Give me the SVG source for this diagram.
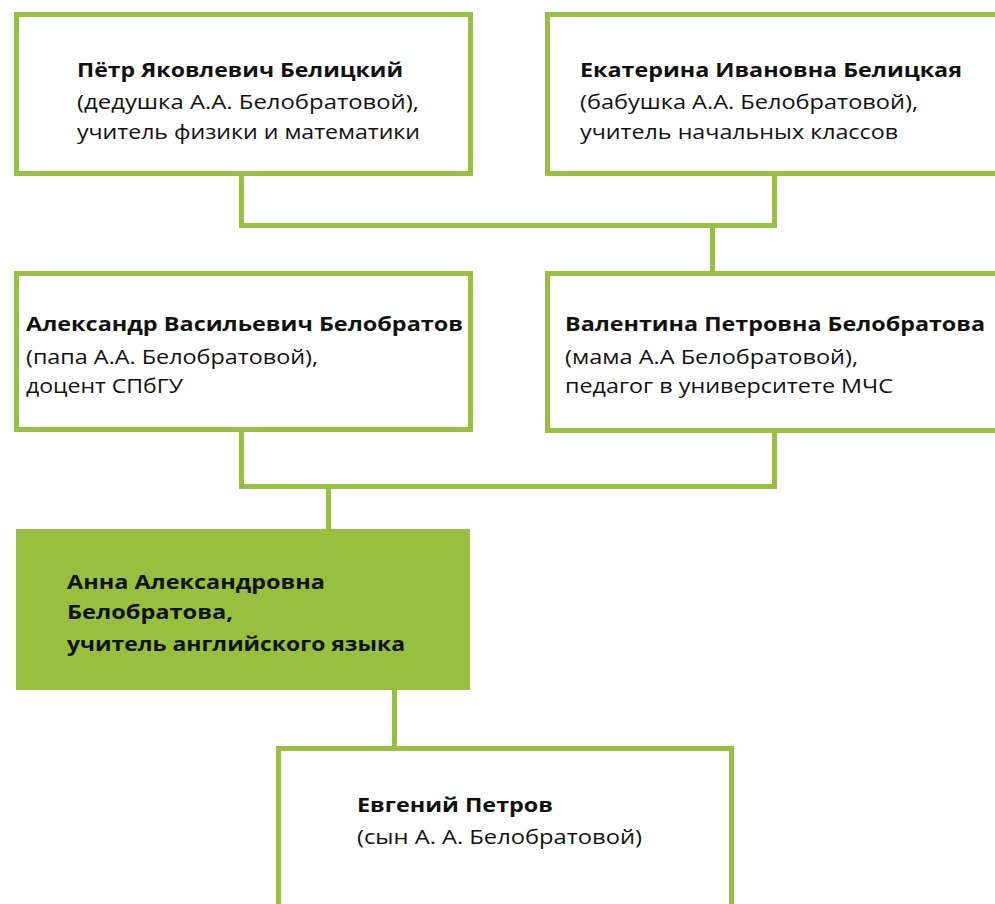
<svg xmlns="http://www.w3.org/2000/svg" width="995" height="904" viewBox="0 0 995 904">
<style>
.box{fill:#ffffff;stroke:#96c03d;stroke-width:5}
.hl{fill:#96c03d;stroke:none}
.con{fill:none;stroke:#96c03d;stroke-width:5}
text{font-family:"Open Sans","Noto Sans","Liberation Sans",sans-serif;font-size:20px;fill:#111111}
.b{font-weight:bold}
</style>
<rect width="995" height="904" fill="#ffffff"/>
<g id="connectors">
<polyline class="con" points="241.5,176 241.5,225.5 774.5,225.5 774.5,176"/>
<line class="con" x1="712.5" y1="225.5" x2="712.5" y2="271"/>
<polyline class="con" points="241.5,431 241.5,486.5 774.5,486.5 774.5,431"/>
<line class="con" x1="328.5" y1="486.5" x2="328.5" y2="529"/>
<line class="con" x1="394.5" y1="690" x2="394.5" y2="746"/>
</g>
<g id="node-petr">
<rect class="box" x="16.5" y="14.5" width="454" height="159"/>
<text x="77" y="77" class="b" textLength="326" lengthAdjust="spacingAndGlyphs">Пётр Яковлевич Белицкий</text>
<text x="77" y="109" textLength="342" lengthAdjust="spacingAndGlyphs">(дедушка А.А. Белобратовой),</text>
<text x="77" y="139" textLength="343" lengthAdjust="spacingAndGlyphs">учитель физики и математики</text>
</g>
<g id="node-ekaterina">
<rect class="box" x="547.5" y="14.5" width="454" height="159"/>
<text x="580" y="77" class="b" textLength="382" lengthAdjust="spacingAndGlyphs">Екатерина Ивановна Белицкая</text>
<text x="580" y="109" textLength="338" lengthAdjust="spacingAndGlyphs">(бабушка А.А. Белобратовой),</text>
<text x="580" y="139" textLength="318" lengthAdjust="spacingAndGlyphs">учитель начальных классов</text>
</g>
<g id="node-aleksandr">
<rect class="box" x="16.5" y="273.5" width="454" height="156"/>
<text x="26" y="331" class="b" textLength="437" lengthAdjust="spacingAndGlyphs">Александр Васильевич Белобратов</text>
<text x="26" y="364" textLength="292" lengthAdjust="spacingAndGlyphs">(папа А.А. Белобратовой),</text>
<text x="26" y="393" textLength="157" lengthAdjust="spacingAndGlyphs">доцент СПбГУ</text>
</g>
<g id="node-valentina">
<rect class="box" x="547.5" y="273.5" width="454" height="157"/>
<text x="565" y="331" class="b" textLength="420" lengthAdjust="spacingAndGlyphs">Валентина Петровна Белобратова</text>
<text x="565" y="364" textLength="293" lengthAdjust="spacingAndGlyphs">(мама А.А Белобратовой),</text>
<text x="565" y="393" textLength="328" lengthAdjust="spacingAndGlyphs">педагог в университете МЧС</text>
</g>
<g id="node-anna">
<rect class="hl" x="16" y="529" width="454" height="161"/>
<text x="67" y="589" class="b" textLength="258" lengthAdjust="spacingAndGlyphs">Анна Александровна</text>
<text x="67" y="619" class="b" textLength="166" lengthAdjust="spacingAndGlyphs">Белобратова,</text>
<text x="67" y="651" class="b" textLength="338" lengthAdjust="spacingAndGlyphs">учитель английского языка</text>
</g>
<g id="node-evgeniy">
<rect class="box" x="278.5" y="748.5" width="453" height="170"/>
<text x="357" y="812" class="b" textLength="196" lengthAdjust="spacingAndGlyphs">Евгений Петров</text>
<text x="357" y="844" textLength="285" lengthAdjust="spacingAndGlyphs">(сын А. А. Белобратовой)</text>
</g>
</svg>
